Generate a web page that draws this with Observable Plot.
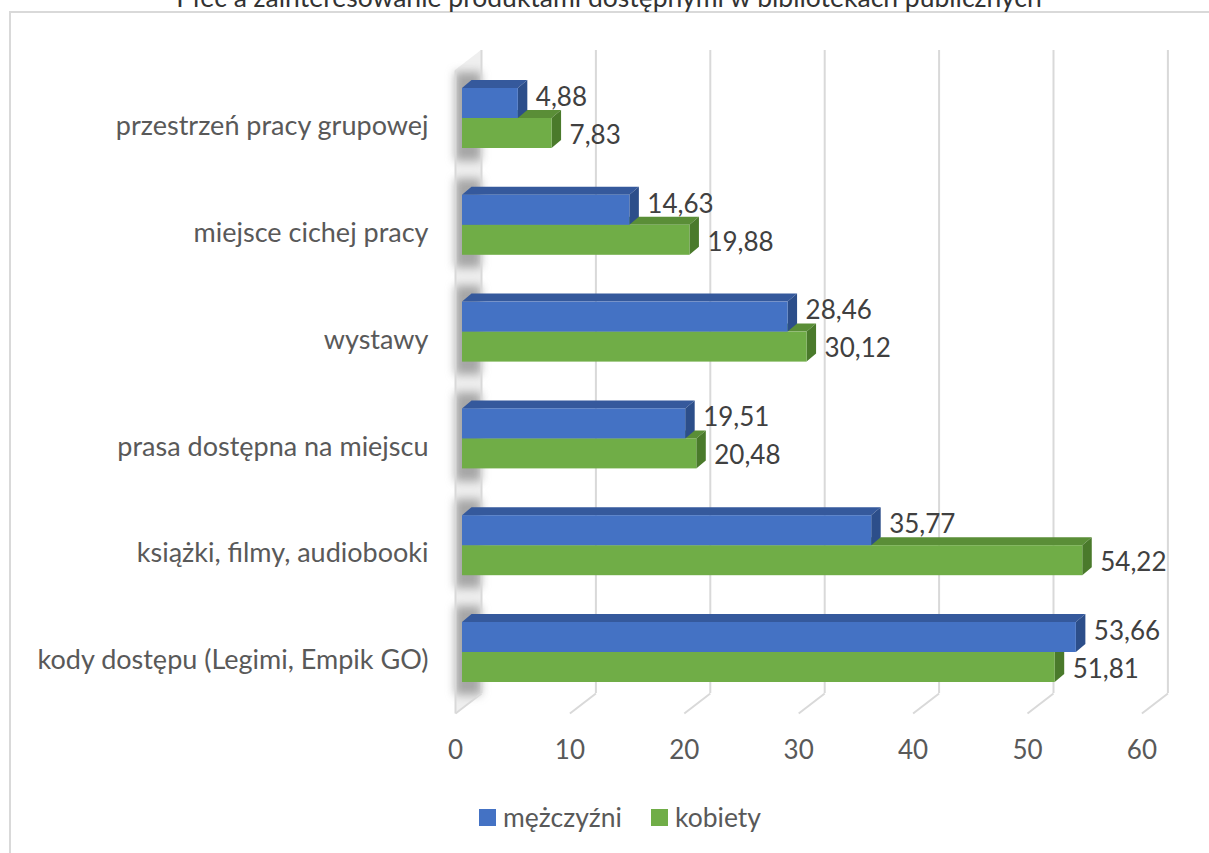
<!DOCTYPE html>
<html>
<head>
<meta charset="utf-8">
<script src="https://cdn.jsdelivr.net/npm/d3@7"></script>
<script src="https://cdn.jsdelivr.net/npm/@observablehq/plot@0.6"></script>
<style>
  body { margin: 0; background: #fff; }
  #wrap { position: relative; width: 1209px; height: 853px; overflow: hidden; font-family: Lato, "Open Sans", sans-serif; }
  #frame { position: absolute; left: 9px; top: 11px; width: 1210px; height: 850px; border-left: 2px solid #d9d9d9; border-top: 2px solid #d9d9d9; }
  #title { position: absolute; top: -18px; left: 0; width: 1218px; text-align: center; font-size: 26.5px; line-height: 30px; color: #333; white-space: nowrap; }
  #chart { position: absolute; top: 0; left: 0; }
  #legend { position: absolute; top: 801px; left: 479px; display: flex; align-items: center; font-size: 26.5px; color: #595959; }
  .sw { width: 17px; height: 17px; display: inline-block; margin-right: 7px; }
  .item { display: flex; align-items: center; margin-right: 29px; }
</style>
</head>
<body>
<div id="wrap">
  <div id="frame"></div>
  <div id="title"></div>
  <div id="chart"></div>
  <div id="legend"></div>
</div>
<script>
const title = "Płeć a zainteresowanie produktami dostępnymi w bibliotekach publicznych";
const categories = ["kody dostępu (Legimi, Empik GO)", "książki, filmy, audiobooki", "prasa dostępna na miejscu", "wystawy", "miejsce cichej pracy", "przestrzeń pracy grupowej"];
const men = [53.66, 35.77, 19.51, 28.46, 14.63, 4.88];
const women = [51.81, 54.22, 20.48, 30.12, 19.88, 7.83];
const seriesNames = ["mężczyźni", "kobiety"];
const xTicks = [0, 10, 20, 30, 40, 50, 60];

const colors = {
  front: ["#4472C4", "#70AD47"],
  top: ["#35599C", "#5A8E37"],
  side: ["#2C4E8A", "#4A7A2B"]
};

// geometry helpers (pixel -> data units)
const W = 1209, H = 790;
const X0 = 462, PXU = 11.44;           // x: 0 -> 462px, 11.44 px per unit
const yRange = [705.4, 64.6];          // y domain [-0.5, 5.5]
const PYU = (yRange[0] - yRange[1]) / 6;
const ux = px => px / PXU;
const yv = p => (yRange[0] - p) / PYU - 0.5;
const h = 30 / PYU;                    // bar thickness
const DX = ux(9.5), DY = 8 / PYU;      // 3D depth
const fmt = v => v.toFixed(2).replace(".", ",");

const bars = [];
categories.forEach((c, i) => {
  bars.push({s: 1, i, v: women[i], y1: i - h, y2: i});
  bars.push({s: 0, i, v: men[i], y1: i, y2: i + h});
});

const topPts = [], sidePts = [];
bars.forEach((b, k) => {
  topPts.push({k, s: b.s, y: b.y2, x1: 0, x2: b.v});
  topPts.push({k, s: b.s, y: b.y2 + DY, x1: DX, x2: b.v + DX});
  sidePts.push({k, s: b.s, x: b.v, y1: b.y1, y2: b.y2});
  sidePts.push({k, s: b.s, x: b.v + DX, y1: b.y1 + DY, y2: b.y2 + DY});
});

const wall = [
  {x: ux(-7), y1: yv(713), y2: yv(70)},
  {x: ux(19), y1: yv(693), y2: yv(50)}
];
const shadows = categories.map((c, i) => ({i}));
const floor = xTicks.map(t => ({t}));
const fontSize = 26;

const marks = [
  Plot.areaY(wall, {x: "x", y1: "y1", y2: "y2", fill: "#efefef"}),
  Plot.rect(shadows, {x1: ux(-7), x2: ux(19), y1: d => d.i - h - 0.12, y2: d => d.i + h + 0.15, fill: "#6a6a6a", fillOpacity: 0.55, imageFilter: "blur(5px)"}),
  Plot.ruleX(xTicks, {x: d => d, dx: 19, stroke: "#d9d9d9", strokeWidth: 2}),
  Plot.link(floor, {x1: d => d.t + ux(19), x2: d => d.t + ux(-7), y1: yv(693), y2: yv(713), stroke: "#d9d9d9", strokeWidth: 2}),
  Plot.link([0], {x1: ux(-7), x2: ux(-7), y1: yv(70), y2: yv(713), stroke: "#d9d9d9", strokeWidth: 2})
];

bars.forEach((b, k) => {
  marks.push(Plot.areaX(topPts.filter(p => p.k === k), {y: "y", x1: "x1", x2: "x2", fill: colors.top[b.s], curve: "linear"}));
  marks.push(Plot.areaY(sidePts.filter(p => p.k === k), {x: "x", y1: "y1", y2: "y2", fill: colors.side[b.s], curve: "linear"}));
  marks.push(Plot.rect([b], {x1: d => 0, x2: "v", y1: "y1", y2: "y2", fill: colors.front[b.s]}));
});

marks.push(
  Plot.text(bars.filter(b => b.s === 0), {x: d => d.v + DX, y: d => (d.y1 + d.y2) / 2, dx: 8, dy: -6, text: d => fmt(d.v), textAnchor: "start", fontSize, fill: "#404040"}),
  Plot.text(bars.filter(b => b.s === 1), {x: d => d.v + DX, y: d => (d.y1 + d.y2) / 2, dx: 8, dy: 2, text: d => fmt(d.v), textAnchor: "start", fontSize, fill: "#404040"}),
  Plot.text(categories, {x: d => 0, y: (d, i) => i, dx: -34, dy: 8, text: d => d, textAnchor: "end", fontSize: 27, fill: "#595959"}),
  Plot.text(xTicks, {x: d => d, y: d => -0.5, dx: -7, dy: 45, text: d => String(d), fontSize, fill: "#595959"})
);

const chart = Plot.plot({
  width: W,
  height: H,
  marginTop: 50,
  marginBottom: H - 693,
  marginLeft: 0,
  marginRight: 0,
  x: {domain: [0, 60], range: [X0, X0 + 60 * PXU], axis: null},
  y: {domain: [-0.5, 5.5], range: yRange, axis: null},
  style: {fontFamily: "Lato, 'Open Sans', sans-serif", background: "transparent", overflow: "visible"},
  marks
});
document.getElementById("chart").appendChild(chart);
document.getElementById("title").textContent = title;

const legend = document.getElementById("legend");
seriesNames.forEach((n, s) => {
  const it = document.createElement("div");
  it.className = "item";
  it.innerHTML = `<span class="sw" style="background:${colors.front[s]}"></span><span>${n}</span>`;
  legend.appendChild(it);
});
</script>
</body>
</html>
